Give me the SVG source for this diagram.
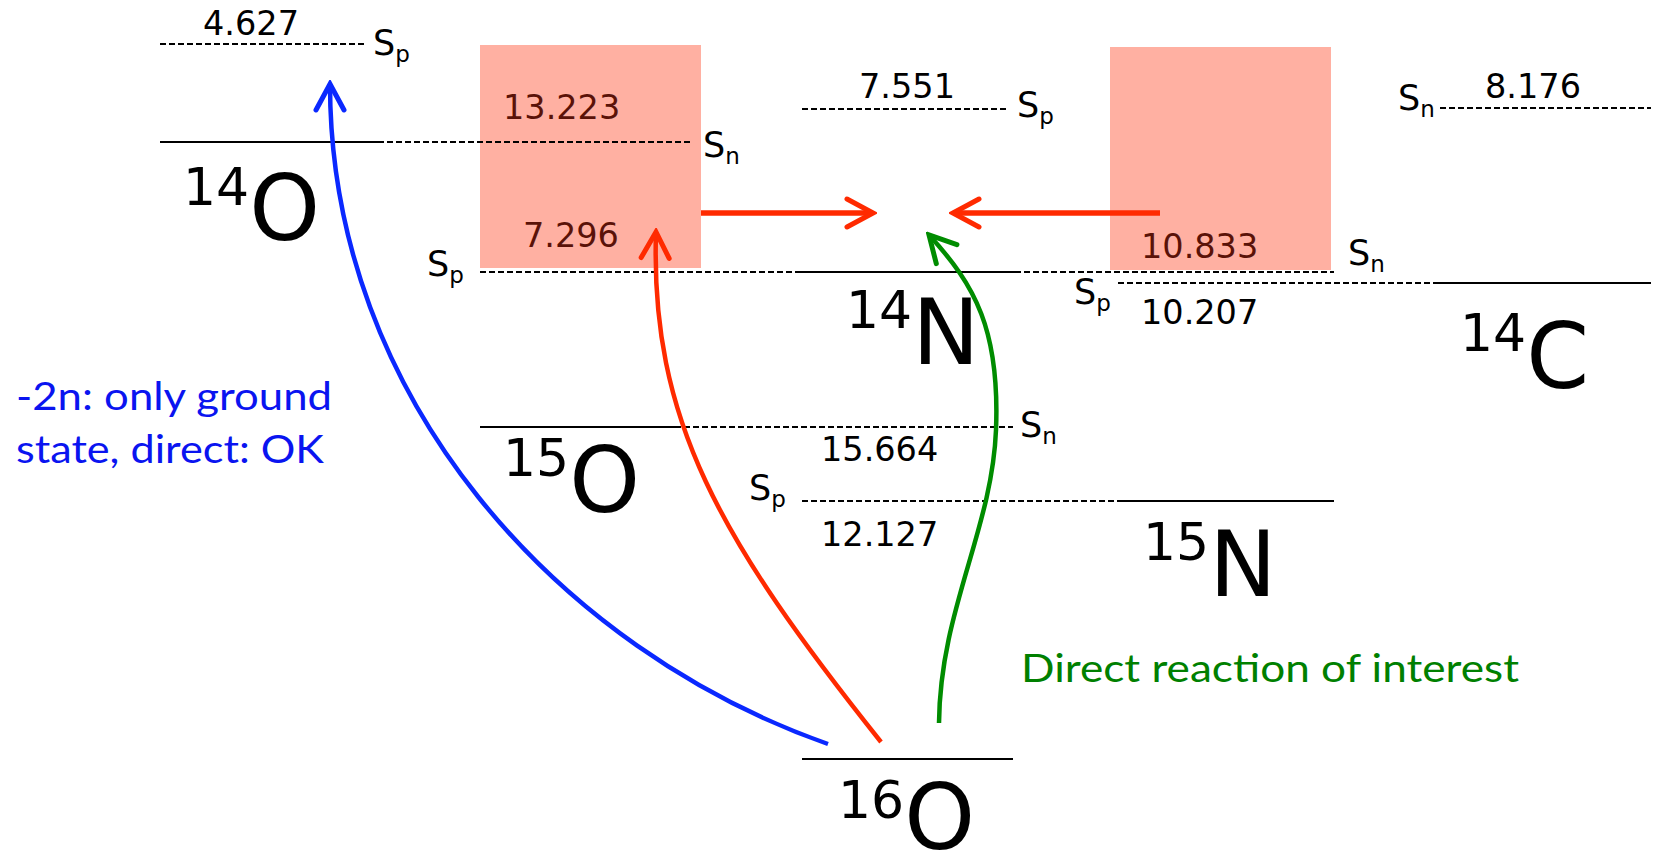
<svg xmlns="http://www.w3.org/2000/svg" width="1654" height="855" viewBox="0 0 1654 855">
<style>
.lvl{stroke:#000;stroke-width:2;fill:none}
.thr{stroke:#000;stroke-width:2;stroke-dasharray:6,3;fill:none}
.box{fill:#ffb0a2}
.num{font-family:"DejaVu Sans",sans-serif;font-size:33.5px;fill:#000}
.numd{font-family:"DejaVu Sans",sans-serif;font-size:33.5px;fill:#5a1208}
.s{font-family:"DejaVu Sans",sans-serif;font-size:35px;fill:#000}
.sub{font-size:23px}
.nuc{font-family:"DejaVu Sans",sans-serif;fill:#000}
.sup{font-size:52px}
.big{font-size:90px}
.note{font-family:Lato,"Liberation Sans",sans-serif;font-size:39px}
</style>
<defs>
<marker id="mr" viewBox="-30 -18 34 36" refX="0" refY="0" markerUnits="userSpaceOnUse" markerWidth="34" markerHeight="36" orient="auto"><path d="M-26,-14 L0,0 L-26,14" fill="none" stroke="#ff2a00" stroke-width="5" stroke-linecap="round" stroke-linejoin="miter"/></marker>
<marker id="mb" viewBox="-30 -18 34 36" refX="0" refY="0" markerUnits="userSpaceOnUse" markerWidth="34" markerHeight="36" orient="auto"><path d="M-26,-14 L0,0 L-26,14" fill="none" stroke="#0a28ff" stroke-width="5" stroke-linecap="round"/></marker>
<marker id="mg" viewBox="-30 -18 34 36" refX="0" refY="0" markerUnits="userSpaceOnUse" markerWidth="34" markerHeight="36" orient="auto"><path d="M-26,-14 L0,0 L-26,14" fill="none" stroke="#008c00" stroke-width="5" stroke-linecap="round"/></marker>
</defs>

<g id="box-14O-region"><rect class="box" x="480" y="45" width="221" height="223"/></g>
<g id="box-14C-region"><rect class="box" x="1110" y="47" width="221" height="223"/></g>

<g id="n14O">
<line class="thr" x1="160" y1="44" x2="364" y2="44"/>
<text class="num" x="251" y="35" text-anchor="middle">4.627</text>
<text class="s" x="373" y="55">S<tspan class="sub" dy="7">p</tspan></text>
<line class="lvl" x1="160" y1="142" x2="378" y2="142"/>
<text class="nuc" x="183"><tspan class="sup" y="205">14</tspan><tspan class="big" y="240">O</tspan></text>
</g>

<g id="n15O-thresholds">
<line class="thr" x1="378" y1="142" x2="691" y2="142"/>
<text class="numd" x="503" y="119">13.223</text>
<text class="s" x="703" y="157">S<tspan class="sub" dy="7">n</tspan></text>
<text class="numd" x="523" y="247">7.296</text>
<text class="s" x="427" y="276">S<tspan class="sub" dy="7">p</tspan></text>
<line class="thr" x1="480" y1="272" x2="800" y2="272"/>
</g>

<g id="n14N">
<line class="thr" x1="802" y1="109" x2="1007" y2="109"/>
<text class="num" x="907" y="98" text-anchor="middle">7.551</text>
<text class="s" x="1017" y="117">S<tspan class="sub" dy="7">p</tspan></text>
<line class="lvl" x1="800" y1="272" x2="1015" y2="272"/>
<text class="nuc" x="846"><tspan class="sup" y="328">14</tspan><tspan class="big" y="364">N</tspan></text>
</g>

<g id="n15N-thresholds">
<line class="thr" x1="1015" y1="272" x2="1334" y2="272"/>
<text class="numd" x="1141" y="258">10.833</text>
<text class="s" x="1348" y="265">S<tspan class="sub" dy="7">n</tspan></text>
<text class="s" x="1074" y="304">S<tspan class="sub" dy="7">p</tspan></text>
<line class="thr" x1="1118" y1="283" x2="1437" y2="283"/>
<text class="num" x="1141" y="324">10.207</text>
</g>

<g id="n14C">
<text class="s" x="1398" y="110">S<tspan class="sub" dy="7">n</tspan></text>
<line class="thr" x1="1440" y1="108" x2="1651" y2="108"/>
<text class="num" x="1533" y="98" text-anchor="middle">8.176</text>
<line class="lvl" x1="1437" y1="283" x2="1651" y2="283"/>
<text class="nuc" x="1460"><tspan class="sup" y="351">14</tspan><tspan class="big" y="388">C</tspan></text>
</g>

<g id="n15O">
<line class="lvl" x1="480" y1="427" x2="675" y2="427"/>
<line class="thr" x1="675" y1="427" x2="1013" y2="427"/>
<text class="s" x="1020" y="437">S<tspan class="sub" dy="7">n</tspan></text>
<text class="num" x="821" y="461">15.664</text>
<text class="nuc" x="503"><tspan class="sup" y="476">15</tspan><tspan class="big" y="512">O</tspan></text>
</g>

<g id="n15N">
<text class="s" x="749" y="500">S<tspan class="sub" dy="7">p</tspan></text>
<line class="thr" x1="802" y1="501" x2="1118" y2="501"/>
<line class="lvl" x1="1118" y1="501" x2="1334" y2="501"/>
<text class="num" x="821" y="546">12.127</text>
<text class="nuc" x="1143"><tspan class="sup" y="560">15</tspan><tspan class="big" y="596">N</tspan></text>
</g>

<g id="n16O">
<line class="lvl" x1="802" y1="759" x2="1013" y2="759"/>
<text class="nuc" x="838"><tspan class="sup" y="818">16</tspan><tspan class="big" y="849">O</tspan></text>
</g>

<g id="connectors" fill="none" stroke-linecap="butt">
<line x1="701" y1="213" x2="873" y2="213" stroke="#ff2a00" stroke-width="5.5" marker-end="url(#mr)"/>
<line x1="1160" y1="213" x2="953" y2="213" stroke="#ff2a00" stroke-width="5.5" marker-end="url(#mr)"/>
<path d="M828,744 C560,650 330,400 330,84" stroke="#0a28ff" stroke-width="4.5" marker-end="url(#mb)"/>
<path d="M881,742 C720,540 650,420 656,232" stroke="#ff2a00" stroke-width="4.5" marker-end="url(#mr)"/>
<path d="M939,723 C940,610 992,530 996,430 C1000,330 975,285 929,235" stroke="#008c00" stroke-width="4.5" marker-end="url(#mg)"/>
</g>

<g id="notes">
<text class="note" fill="#0a14f0" x="16" y="410" textLength="316" lengthAdjust="spacingAndGlyphs">-2n: only ground</text>
<text class="note" fill="#0a14f0" x="16" y="463" textLength="308" lengthAdjust="spacingAndGlyphs">state, direct: OK</text>
<text class="note" fill="#008000" x="1021" y="682" textLength="498" lengthAdjust="spacingAndGlyphs">Direct reaction of interest</text>
</g>
</svg>
